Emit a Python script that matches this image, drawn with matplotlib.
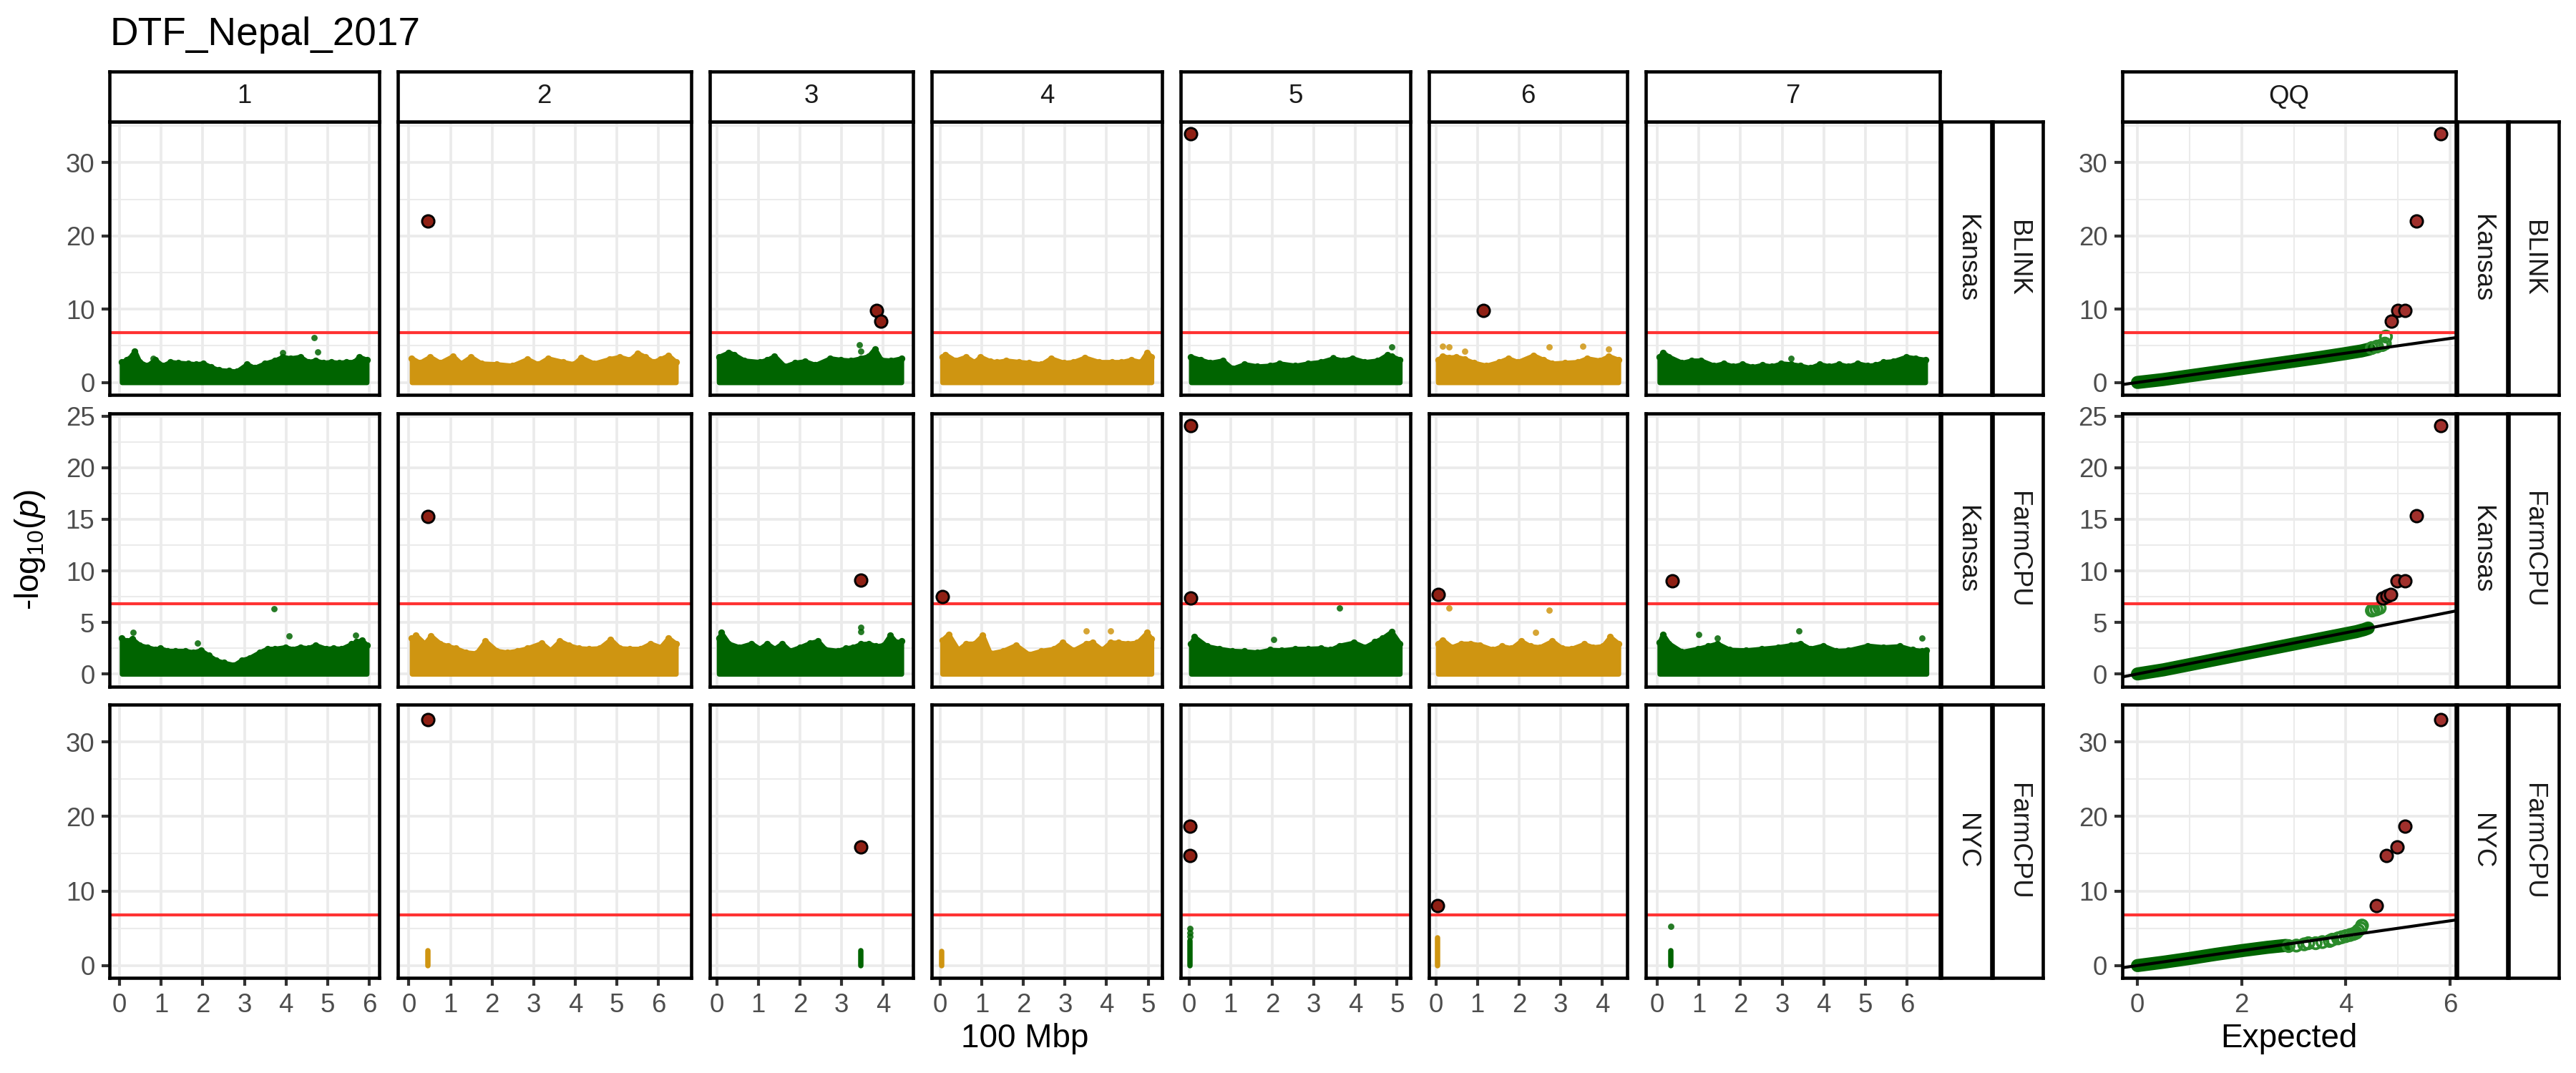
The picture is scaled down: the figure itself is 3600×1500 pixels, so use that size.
# Manhattan + QQ para DTF_Nepal_2017 (BLINK / FarmCPU, Kansas / NYC)

import matplotlib.pyplot as plt
import numpy as np

plt.rcParams['font.family'] = ['Liberation Sans', 'DejaVu Sans']
plt.rcParams['mathtext.fontset'] = 'custom'
plt.rcParams['mathtext.rm'] = 'Liberation Sans'
plt.rcParams['mathtext.it'] = 'Liberation Sans:italic'

# ----------------------------------------------------------------------------- datos

chroms = ['1', '2', '3', '4', '5', '6', '7']
chr_start = 0.05
chr_end = [5.94, 6.46, 4.50, 5.08, 5.07, 4.39, 6.47]   # 100 Mbp
chr_colors = ['#006400', '#CF9511', '#006400', '#CF9511', '#006400', '#CF9511', '#006400']
threshold = 6.8

row_method = ['BLINK', 'FarmCPU', 'FarmCPU']
row_env = ['Kansas', 'Kansas', 'NYC']

# BLINK / Kansas: borde superior de la nube de SNPs
blink_ks_pos = [
    [0.05, 0.17, 0.30, 0.36, 0.48, 0.66, 0.85, 1.03, 1.22, 1.40, 1.65, 1.83, 2.01, 2.20, 2.38, 2.63, 2.81,
     3.06, 3.24, 3.49, 3.73, 3.92, 4.10, 4.34, 4.53, 4.71, 4.90, 5.08, 5.27, 5.45, 5.63, 5.76, 5.94],
    [0.07, 0.26, 0.51, 0.75, 1.06, 1.25, 1.49, 1.74, 2.11, 2.48, 2.85, 3.10, 3.34, 3.71, 3.96, 4.14, 4.45,
     4.82, 5.07, 5.31, 5.50, 5.68, 5.87, 6.05, 6.24, 6.42],
    [0.05, 0.29, 0.42, 0.66, 1.03, 1.21, 1.39, 1.63, 1.88, 2.12, 2.37, 2.73, 2.98, 3.22, 3.46, 3.65, 3.80,
     3.95, 4.19, 4.44],
    [0.05, 0.13, 0.36, 0.62, 0.82, 0.97, 1.20, 1.36, 1.59, 1.90, 2.13, 2.43, 2.66, 2.97, 3.20, 3.48, 3.82,
     4.13, 4.36, 4.59, 4.82, 4.97, 5.08],
    [0.05, 0.28, 0.51, 0.81, 1.04, 1.34, 1.65, 1.95, 2.18, 2.56, 2.86, 3.17, 3.47, 3.70, 3.93, 4.23, 4.54,
     4.77, 4.87, 5.07],
    [0.05, 0.16, 0.31, 0.49, 0.69, 0.91, 1.21, 1.52, 1.74, 1.97, 2.35, 2.58, 2.80, 3.10, 3.41, 3.63, 3.94,
     4.16, 4.39],
    [0.05, 0.13, 0.28, 0.59, 0.82, 1.05, 1.36, 1.59, 1.82, 2.05, 2.28, 2.52, 2.75, 2.98, 3.21, 3.44, 3.67,
     3.90, 4.13, 4.36, 4.59, 4.82, 5.06, 5.25, 5.44, 5.67, 5.98, 6.21, 6.44],
]
blink_ks_top = [
    [2.8, 3.1, 3.7, 4.3, 2.8, 2.3, 3.1, 2.3, 2.8, 2.7, 2.6, 2.5, 2.6, 2.1, 1.7, 1.6, 1.5,
     2.5, 2.0, 2.6, 3.0, 3.5, 3.3, 3.5, 2.8, 3.0, 2.7, 2.8, 2.7, 2.8, 2.8, 3.5, 3.1],
    [3.3, 2.7, 3.5, 2.7, 3.6, 2.6, 3.5, 2.6, 2.5, 2.3, 3.2, 2.5, 3.3, 2.8, 2.5, 3.4, 2.6,
     3.2, 3.5, 3.1, 4.0, 3.5, 2.8, 3.2, 3.7, 2.8],
    [3.5, 4.1, 3.8, 3.0, 2.8, 3.1, 3.6, 2.2, 2.7, 2.9, 2.4, 3.3, 3.1, 3.0, 3.3, 3.6, 4.6,
     3.1, 3.0, 3.3],
    [3.5, 3.8, 3.0, 3.5, 2.8, 3.5, 2.9, 2.8, 3.0, 2.8, 2.7, 2.5, 3.3, 2.7, 2.8, 3.4, 2.8,
     2.8, 2.8, 3.1, 2.8, 4.1, 3.5],
    [3.5, 3.1, 2.7, 3.0, 1.9, 2.5, 2.2, 2.3, 2.6, 2.3, 2.6, 2.8, 3.3, 3.0, 3.3, 2.8, 3.0,
     3.8, 3.6, 3.1],
    [3.1, 3.6, 3.4, 3.5, 3.2, 2.7, 2.3, 2.8, 3.3, 2.8, 3.7, 3.1, 2.6, 2.7, 2.8, 3.3, 3.0,
     3.6, 3.1],
    [3.5, 4.1, 3.5, 2.7, 3.0, 3.0, 2.3, 2.6, 2.2, 2.5, 2.1, 2.4, 2.2, 2.6, 2.5, 2.3, 2.0,
     2.5, 2.2, 2.5, 2.2, 2.6, 2.3, 2.4, 2.8, 2.9, 3.5, 3.3, 3.1],
]
blink_ks_out_chr = [1, 1, 1, 1, 1, 3, 3, 5, 5, 6, 6, 6, 6, 6, 6, 7]
blink_ks_out_pos = [4.68, 4.76, 3.92, 0.81, 0.34, 3.43, 3.46, 4.87, 3.47, 0.16, 0.31, 0.69, 2.73, 3.53, 4.16, 3.21]
blink_ks_out_val = [6.07, 4.2, 4.06, 3.3, 4.0, 5.1, 4.3, 4.8, 3.4, 4.9, 4.8, 4.3, 4.8, 4.9, 4.6, 3.3]
blink_ks_sig_chr = [2, 3, 3, 5, 6]
blink_ks_sig_pos = [0.45, 3.84, 3.95, 0.04, 1.14]
blink_ks_sig_val = [22.0, 9.8, 8.4, 33.9, 9.87]

# FarmCPU / Kansas
farm_ks_pos = [
    [0.05, 0.17, 0.30, 0.48, 0.66, 0.85, 0.97, 1.15, 1.34, 1.58, 1.77, 1.95, 2.14, 2.32, 2.50, 2.75, 2.93,
     3.12, 3.36, 3.55, 3.73, 3.98, 4.16, 4.34, 4.53, 4.71, 4.96, 5.14, 5.33, 5.57, 5.69, 5.82, 5.94],
    [0.07, 0.17, 0.38, 0.53, 0.75, 0.94, 1.12, 1.37, 1.62, 1.84, 2.11, 2.36, 2.60, 2.85, 3.19, 3.40, 3.63,
     3.84, 4.08, 4.33, 4.58, 4.85, 5.07, 5.31, 5.56, 5.81, 6.05, 6.24, 6.42],
    [0.05, 0.11, 0.29, 0.54, 0.84, 1.03, 1.21, 1.39, 1.57, 1.76, 2.00, 2.24, 2.43, 2.61, 2.91, 3.10, 3.28,
     3.46, 3.65, 3.83, 4.01, 4.17, 4.32, 4.44],
    [0.05, 0.20, 0.43, 0.62, 0.82, 1.02, 1.20, 1.51, 1.82, 2.13, 2.43, 2.74, 2.94, 3.20, 3.51, 3.66, 3.89,
     4.09, 4.28, 4.51, 4.74, 4.97, 5.08],
    [0.05, 0.13, 0.43, 0.73, 1.04, 1.34, 1.65, 1.95, 2.23, 2.56, 2.86, 3.17, 3.40, 3.62, 3.97, 4.23, 4.46,
     4.66, 4.87, 5.07],
    [0.05, 0.16, 0.38, 0.61, 0.84, 1.06, 1.37, 1.59, 1.82, 2.05, 2.27, 2.50, 2.80, 3.03, 3.26, 3.56, 3.78,
     4.01, 4.19, 4.39],
    [0.05, 0.13, 0.28, 0.59, 0.97, 1.21, 1.44, 1.74, 2.13, 2.51, 2.90, 3.21, 3.44, 3.67, 3.98, 4.29, 4.59,
     5.06, 5.44, 5.83, 6.13, 6.36, 6.47],
]
farm_ks_top = [
    [3.45, 3.2, 3.4, 2.8, 2.6, 2.4, 2.5, 2.25, 2.25, 2.25, 2.1, 2.3, 1.8, 1.33, 1.1, 0.87, 1.33,
     1.56, 2.1, 2.45, 2.45, 2.6, 2.4, 2.6, 2.5, 2.8, 2.45, 2.5, 2.45, 2.9, 3.1, 3.3, 2.8],
    [3.5, 3.75, 2.95, 3.7, 2.95, 2.7, 2.5, 2.1, 2.0, 3.2, 2.25, 2.1, 2.25, 2.5, 3.0, 2.3, 3.2,
     2.8, 2.5, 2.45, 2.5, 3.35, 2.5, 2.45, 2.45, 2.95, 2.6, 3.5, 2.95],
    [3.45, 4.0, 2.95, 2.6, 2.95, 2.45, 2.95, 2.45, 2.95, 2.25, 2.6, 3.0, 3.2, 2.4, 2.25, 2.5, 2.6,
     2.9, 2.95, 2.7, 2.8, 3.75, 3.05, 3.2],
    [3.3, 3.85, 2.35, 2.95, 2.95, 3.75, 2.0, 2.25, 2.8, 1.9, 2.25, 2.45, 3.05, 2.3, 2.95, 3.05, 2.35,
     3.05, 3.05, 2.95, 3.05, 4.0, 3.4],
    [2.95, 3.6, 2.7, 2.45, 2.25, 2.2, 2.1, 2.35, 2.3, 2.45, 2.45, 2.5, 2.35, 2.75, 3.05, 2.6, 3.1,
     3.5, 4.1, 2.95],
    [2.95, 3.3, 2.6, 2.95, 2.95, 2.8, 2.35, 2.7, 2.5, 3.2, 2.7, 2.6, 3.2, 2.5, 2.45, 2.9, 2.6,
     2.7, 3.6, 2.95],
    [3.05, 3.85, 2.95, 2.15, 2.45, 2.7, 2.95, 2.35, 2.3, 2.45, 2.6, 2.8, 2.95, 2.45, 2.75, 2.25, 2.3,
     2.75, 2.6, 2.7, 2.35, 2.25, 2.3],
]
farm_ks_out_chr = [1, 1, 1, 1, 1, 3, 3, 4, 4, 4, 5, 5, 6, 6, 6, 7, 7, 7, 7]
farm_ks_out_pos = [3.71, 4.07, 1.87, 0.33, 5.67, 3.46, 3.46, 3.51, 4.09, 0.20, 3.62, 2.03, 0.31, 2.73, 2.40,
                   0.99, 3.41, 6.36, 1.44]
farm_ks_out_val = [6.34, 3.7, 3.0, 4.0, 3.75, 4.55, 4.1, 4.2, 4.2, 3.75, 6.4, 3.35, 6.4, 6.16, 4.05,
                   3.85, 4.2, 3.5, 3.5]
farm_ks_sig_chr = [2, 3, 4, 5, 5, 6, 7]
farm_ks_sig_pos = [0.45, 3.47, 0.05, 0.04, 0.04, 0.05, 0.35]
farm_ks_sig_val = [15.3, 9.1, 7.5, 24.1, 7.4, 7.7, 9.0]

# FarmCPU / NYC: solo unos pocos SNPs en columnas angostas
farm_nyc_strip_chr = [2, 3, 4, 5, 6, 7]
farm_nyc_strip_pos = [0.45, 3.47, 0.03, 0.03, 0.04, 0.33]
farm_nyc_strip_top = [2.0, 2.0, 1.9, 3.35, 3.7, 2.0]
farm_nyc_out_chr = [5, 5, 5, 7]
farm_nyc_out_pos = [0.03, 0.03, 0.03, 0.33]
farm_nyc_out_val = [3.9, 4.4, 5.0, 5.3]
farm_nyc_sig_chr = [2, 3, 5, 5, 6]
farm_nyc_sig_pos = [0.45, 3.47, 0.03, 0.03, 0.04]
farm_nyc_sig_val = [33.0, 15.9, 18.7, 14.8, 8.0]

# QQ (esperado vs observado, -log10 p)
qq_blink_ks_band_exp = [0.0, 0.5, 1.0, 1.5, 2.0, 2.5, 3.0, 3.5, 4.0, 4.3, 4.45]
qq_blink_ks_band_obs = [0.0, 0.4, 0.9, 1.4, 1.9, 2.4, 2.9, 3.4, 3.95, 4.3, 4.55]
qq_blink_ks_open_exp = [4.5, 4.6, 4.7, 4.75, 4.77]
qq_blink_ks_open_obs = [4.7, 4.9, 5.1, 5.3, 6.26]
qq_blink_ks_sig_exp = [4.88, 5.0, 5.13, 5.35, 5.82]
qq_blink_ks_sig_obs = [8.4, 9.8, 9.87, 22.0, 33.9]

qq_farm_ks_band_exp = [0.0, 0.5, 1.0, 1.5, 2.0, 2.5, 3.0, 3.5, 4.0, 4.2, 4.35, 4.43]
qq_farm_ks_band_obs = [0.0, 0.4, 0.9, 1.4, 1.9, 2.4, 2.9, 3.4, 3.9, 4.1, 4.3, 4.45]
qq_farm_ks_open_exp = [4.5, 4.53, 4.59, 4.65]
qq_farm_ks_open_obs = [6.15, 6.2, 6.27, 6.4]
qq_farm_ks_sig_exp = [4.71, 4.79, 4.86, 4.98, 5.13, 5.35, 5.82]
qq_farm_ks_sig_obs = [7.4, 7.54, 7.7, 9.03, 9.03, 15.35, 24.08]

qq_farm_nyc_band_exp = [0.0, 0.5, 1.0, 1.5, 2.0, 2.5, 2.85]
qq_farm_nyc_band_obs = [0.0, 0.45, 0.95, 1.5, 2.0, 2.45, 2.7]
qq_farm_nyc_open_exp = [2.9, 3.05, 3.2, 3.28, 3.42, 3.55, 3.69, 3.74, 3.85, 3.92, 4.0, 4.08, 4.15, 4.2,
                        4.24, 4.29, 4.31]
qq_farm_nyc_open_obs = [2.62, 2.68, 2.85, 3.0, 3.0, 3.15, 3.3, 3.47, 3.65, 3.8, 3.95, 4.1, 4.25, 4.4,
                        4.7, 5.0, 5.36]
qq_farm_nyc_sig_exp = [4.59, 4.78, 4.98, 5.13, 5.82]
qq_farm_nyc_sig_obs = [8.0, 14.8, 15.9, 18.7, 33.0]

# ----------------------------------------------------------------------------- layout (pixeles)

W, H = 3600, 1500
fig = plt.figure(figsize=(12, 5), dpi=300)

LEFT, RIGHT_MAN, GAP = 153, 2711, 26
ROW_TOP = [170, 577.5, 985]
ROW_H = 382
STRIP_TOP = 100
QQ_L, QQ_R = 2966, 3432
SW = 70

GRID = '#EBEBEB'


def px_axes(x0, y0, x1, y1):
    return fig.add_axes([x0 / W, 1 - y1 / H, (x1 - x0) / W, (y1 - y0) / H])


def add_strip(x0, y0, x1, y1, label, rot=0):
    sax = px_axes(x0, y0, x1, y1)
    sax.set_xticks([])
    sax.set_yticks([])
    for s in sax.spines.values():
        s.set_color('black')
        s.set_linewidth(1.1)
    sax.text(0.5, 0.5, label, transform=sax.transAxes, ha='center', va='center',
             rotation=rot, fontsize=8.8, color='#1A1A1A')


def base_axes(x0, y0, x1, y1, xlim, ylim, xt, xminor, yt, yminor, show_x, show_y):
    ax = px_axes(x0, y0, x1, y1)
    ax.set_xlim(xlim)
    ax.set_ylim(ylim)
    ax.set_xticks(xt)
    ax.set_xticks(xminor, minor=True)
    ax.set_yticks(yt)
    ax.set_yticks(yminor, minor=True)
    ax.grid(True, which='major', color=GRID, lw=0.9)
    ax.grid(True, which='minor', color=GRID, lw=0.5)
    ax.set_axisbelow(True)
    for s in ax.spines.values():
        s.set_color('black')
        s.set_linewidth(1.1)
        s.set_zorder(6)
    ax.tick_params(which='major', length=2.75, width=1.0, color='#333333',
                   labelsize=8.8, labelcolor='#4D4D4D', pad=2.2)
    ax.tick_params(which='minor', length=0)
    if not show_x:
        ax.tick_params(axis='x', which='major', length=0, labelbottom=False)
    if not show_y:
        ax.tick_params(axis='y', which='major', length=0, labelleft=False)
    return ax


row_env_pos = [blink_ks_pos, farm_ks_pos, None]
row_env_top = [blink_ks_top, farm_ks_top, None]
row_out = [(blink_ks_out_chr, blink_ks_out_pos, blink_ks_out_val),
           (farm_ks_out_chr, farm_ks_out_pos, farm_ks_out_val),
           (farm_nyc_out_chr, farm_nyc_out_pos, farm_nyc_out_val)]
row_sig = [(blink_ks_sig_chr, blink_ks_sig_pos, blink_ks_sig_val),
           (farm_ks_sig_chr, farm_ks_sig_pos, farm_ks_sig_val),
           (farm_nyc_sig_chr, farm_nyc_sig_pos, farm_nyc_sig_val)]
row_qq = [(qq_blink_ks_band_exp, qq_blink_ks_band_obs, qq_blink_ks_open_exp, qq_blink_ks_open_obs,
           qq_blink_ks_sig_exp, qq_blink_ks_sig_obs),
          (qq_farm_ks_band_exp, qq_farm_ks_band_obs, qq_farm_ks_open_exp, qq_farm_ks_open_obs,
           qq_farm_ks_sig_exp, qq_farm_ks_sig_obs),
          (qq_farm_nyc_band_exp, qq_farm_nyc_band_obs, qq_farm_nyc_open_exp, qq_farm_nyc_open_obs,
           qq_farm_nyc_sig_exp, qq_farm_nyc_sig_obs)]

# anchos de panel proporcionales al largo de cada cromosoma (space = free_x)
spans = [1.1 * (e - chr_start) for e in chr_end]
unit = (RIGHT_MAN - LEFT - GAP * (len(chroms) - 1)) / sum(spans)
lefts = []
x = LEFT
for s in spans:
    lefts.append(x)
    x += s * unit + GAP

for r in range(3):
    y0 = ROW_TOP[r]
    y1 = y0 + ROW_H
    ymax = max(row_sig[r][2])
    ylim = (-0.05 * ymax, ymax * 1.05)
    if ymax > 30:
        yt, ym = [0, 10, 20, 30], [5, 15, 25, 35]
    else:
        yt, ym = [0, 5, 10, 15, 20, 25], [2.5, 7.5, 12.5, 17.5, 22.5]
    bottom = r == 2

    for ci in range(len(chroms)):
        w = chr_end[ci] - chr_start
        xlim = (chr_start - 0.05 * w, chr_end[ci] + 0.05 * w)
        xt = list(range(0, int(xlim[1]) + 1))
        ax = base_axes(lefts[ci], y0, lefts[ci] + spans[ci] * unit, y1, xlim, ylim,
                       xt, [], yt, ym, bottom, ci == 0)
        col = chr_colors[ci]
        ch = ci + 1

        if row_env_pos[r] is not None:
            fb = ax.fill_between(row_env_pos[r][ci], 0, row_env_top[r][ci], facecolor=col,
                                 edgecolor=col, lw=1.6, zorder=1.5)
            fb.set_joinstyle('round')
            ax.scatter(row_env_pos[r][ci], row_env_top[r][ci], s=5, color=col, lw=0, zorder=1.6)
        else:
            for k, c in enumerate(farm_nyc_strip_chr):
                if c == ch:
                    ax.plot([farm_nyc_strip_pos[k]] * 2, [0, farm_nyc_strip_top[k]], color=col,
                            lw=1.8, solid_capstyle='round', zorder=1.5)

        oc, op, ov = row_out[r]
        sel = [k for k, c in enumerate(oc) if c == ch]
        ax.scatter([op[k] for k in sel], [ov[k] for k in sel], s=4.5, color=col, alpha=0.85,
                   lw=0, zorder=1.7)

        ax.axhline(threshold, color='#FF3333', lw=1.0, zorder=2)

        sc, sp, sv = row_sig[r]
        sel = [k for k, c in enumerate(sc) if c == ch]
        ax.scatter([sp[k] for k in sel], [sv[k] for k in sel], s=17, color='#8F2014',
                   edgecolors='black', linewidths=0.7, zorder=3)

        if r == 0:
            add_strip(lefts[ci], STRIP_TOP, lefts[ci] + spans[ci] * unit, y0, chroms[ci])

    # QQ
    be, bo, oe, oo, se, so = row_qq[r]
    qx = (-0.05 * 5.82, 5.82 * 1.05)
    qax = base_axes(QQ_L, y0, QQ_R, y1, qx, ylim, [0, 2, 4, 6], [1, 3, 5], yt, ym, bottom, True)
    qax.plot(be, bo, color='#006400', lw=4.4, solid_capstyle='round', solid_joinstyle='round', zorder=1.5)
    qax.scatter(oe, oo, s=14, facecolors='none', edgecolors='#2A8A2A', linewidths=0.9, zorder=1.6)
    qax.axhline(threshold, color='#FF3333', lw=1.0, zorder=2)
    qax.plot(qx, qx, color='black', lw=1.0, zorder=2.5)
    qax.scatter(se, so, s=17, color='#A0302C', edgecolors='black', linewidths=0.7, zorder=3)
    if r == 0:
        add_strip(QQ_L, STRIP_TOP, QQ_R, y0, 'QQ')

    # etiquetas de fila a la derecha
    for xs in [RIGHT_MAN + 2, QQ_R + 2]:
        add_strip(xs, y0, xs + SW, y1, row_env[r], rot=270)
        add_strip(xs + SW + 2, y0, xs + 2 * SW + 2, y1, row_method[r], rot=270)

fig.text(LEFT / W, 1 - 63 / H, 'DTF_Nepal_2017', fontsize=13.2, color='black', va='baseline')
fig.text(42 / W, 1 - 768 / H, r'-log$_{10}$($\it{p}$)', fontsize=11, rotation=90,
         ha='center', va='center')
fig.text((LEFT + RIGHT_MAN) / 2 / W, 1 - 1452 / H, '100 Mbp', fontsize=11, ha='center', va='center')
fig.text((QQ_L + QQ_R) / 2 / W, 1 - 1452 / H, 'Expected', fontsize=11, ha='center', va='center')

fig.savefig('out.png', dpi=300, facecolor='white')
